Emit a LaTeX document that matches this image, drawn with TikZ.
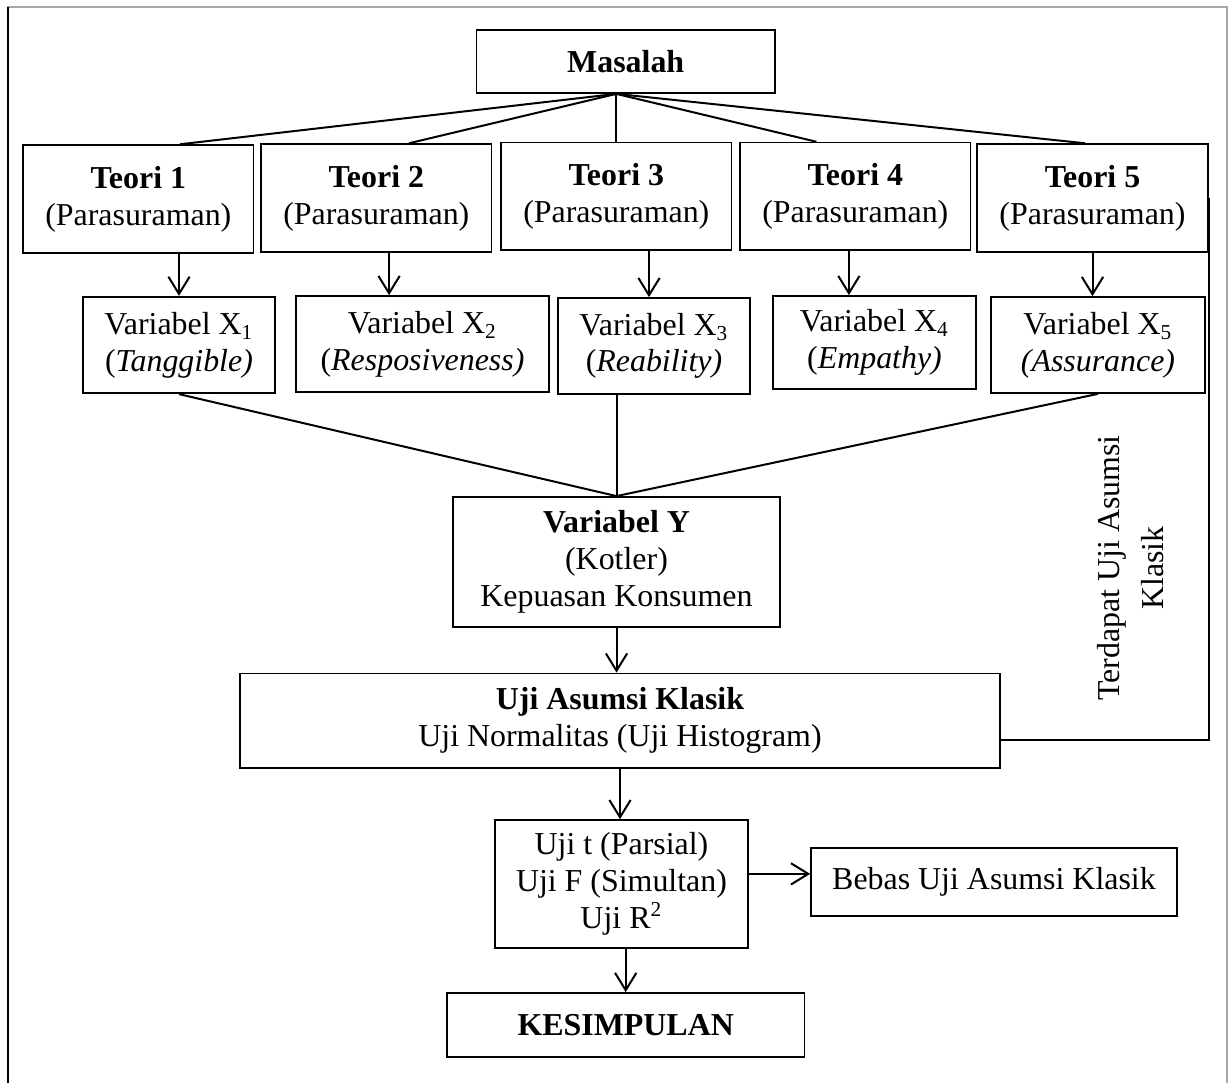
\documentclass[tikz,border=0pt]{standalone}
\usepackage{fontspec}
\setmainfont{Liberation Serif}
\usetikzlibrary{arrows.meta,calc}

\begin{document}
\begin{tikzpicture}[x=0.376pt,y=-0.376pt,
        font=\fontsize{12}{13.8}\selectfont,
        kotak/.style={draw,line width=0.65pt,align=center,inner sep=2pt},
        teori/.style={kotak,minimum width=86.7pt,minimum height=40.5pt},
        garis/.style={line width=0.75pt},
        panah/.style={garis,-{Straight Barb[length=6.5pt,width=8pt]}}]
        \useasboundingbox (0,0) rectangle (1229,1083);
        \draw[gray!70] (8,1083) -- (8,7) -- (1227,7) -- (1227,1083);
        \draw[line width=0.8pt] (8,7) -- (8,1083);
        \node[kotak,minimum width=112.2pt,minimum height=23.7pt] (masalah) at (625.7,61.5) {\textbf{Masalah}};
        \node[teori] (teori1) at (138.3,199) {\textbf{Teori 1}\\(Parasuraman)};
        \node[teori] (teori2) at (376.3,198) {\textbf{Teori 2}\\(Parasuraman)};
        \node[teori] (teori3) at (616.3,196.5) {\textbf{Teori 3}\\(Parasuraman)};
        \node[teori] (teori4) at (855.3,196.5) {\textbf{Teori 4}\\(Parasuraman)};
        \node[teori] (teori5) at (1092.5,198) {\textbf{Teori 5}\\(Parasuraman)};
        \node[kotak,minimum width=72.2pt,minimum height=36.3pt] (var1) at (179,345) {Variabel X\textsubscript{1}\\(\textit{Tanggible)}};
        \node[kotak,minimum width=95.1pt,minimum height=36.1pt] (var2) at (422.5,344) {Variabel X\textsubscript{2}\\(\textit{Resposiveness)}};
        \node[kotak,minimum width=72.2pt,minimum height=36.1pt] (var3) at (654,346) {Variabel X\textsubscript{3}\\(\textit{Reability)}};
        \node[kotak,minimum width=76.3pt,minimum height=35pt] (var4) at (874.5,342.5) {Variabel X\textsubscript{4}\\(\textit{Empathy)}};
        \node[kotak,minimum width=80.5pt,minimum height=36.1pt] (var5) at (1098,345) {Variabel X\textsubscript{5}\\\textit{(Assurance)}};
        \node[kotak,minimum width=123pt,minimum height=48.9pt] (vary) at (616.5,562) {\textbf{Variabel Y}\\(Kotler)\\Kepuasan Konsumen};
        \node[kotak,minimum width=285.8pt,minimum height=35.5pt] (uji) at (620,720.7) {\textbf{Uji Asumsi Klasik}\\Uji Normalitas (Uji Histogram)};
        \node[kotak,minimum width=95.1pt,minimum height=48.1pt] (ujit) at (621.5,884) {Uji t (Parsial)\\Uji F (Simultan)\\Uji R\textsuperscript{2}};
        \node[kotak,minimum width=137.6pt,minimum height=25.6pt] (bebas) at (994,882) {Bebas Uji Asumsi Klasik};
        \node[kotak,minimum width=134.4pt,minimum height=24.1pt] (kesimpulan) at (625.7,1025) {\textbf{KESIMPULAN}};
        \node[rotate=90,align=center,font=\fontsize{12}{16.6}\selectfont] (terdapat) at (1131,568) {Terdapat Uji Asumsi\\Klasik};
        % masalah ke teori
        \draw[garis] (masalah.south -| teori3.north) -- ([xshift=15.7pt]teori1.north);
        \draw[garis] (masalah.south -| teori3.north) -- ([xshift=12.3pt]teori2.north);
        \draw[garis] (masalah.south -| teori3.north) -- (teori3.north);
        \draw[garis] (masalah.south -| teori3.north) -- ([xshift=-14.6pt]teori4.north);
        \draw[garis] (masalah.south -| teori3.north) -- ([xshift=-2.8pt]teori5.north);
        % teori ke variabel
        \draw[panah] (var1.north |- teori1.south) -- (var1.north);
        \draw[panah] ([xshift=4.8pt]teori2.south) -- ([xshift=4.8pt]teori2.south |- var2.north);
        \draw[panah] ([xshift=12.3pt]teori3.south) -- ([xshift=12.3pt]teori3.south |- var3.north);
        \draw[panah] ([xshift=-2.4pt]teori4.south) -- ([xshift=-2.4pt]teori4.south |- var4.north);
        \draw[panah] (teori5.south) -- (teori5.south |- var5.north);
        % variabel ke Y
        \draw[garis] (var1.south) -- (vary.north);
        \draw[garis] (var3.south -| vary.north) -- (vary.north);
        \draw[garis] (var5.south) -- (vary.north);
        \draw[panah] (vary.south) -- (vary.south |- uji.north);
        \draw[panah] (uji.south) -- (uji.south |- ujit.north);
        \draw[panah] ([yshift=3.8pt]ujit.east) -- ([yshift=3.8pt]ujit.east -| bebas.west);
        \draw[panah] (kesimpulan.north |- ujit.south) -- (kesimpulan.north);
        \draw[garis] (teori5.east) |- ([yshift=-7.3pt]uji.east);
\end{tikzpicture}
\end{document}
